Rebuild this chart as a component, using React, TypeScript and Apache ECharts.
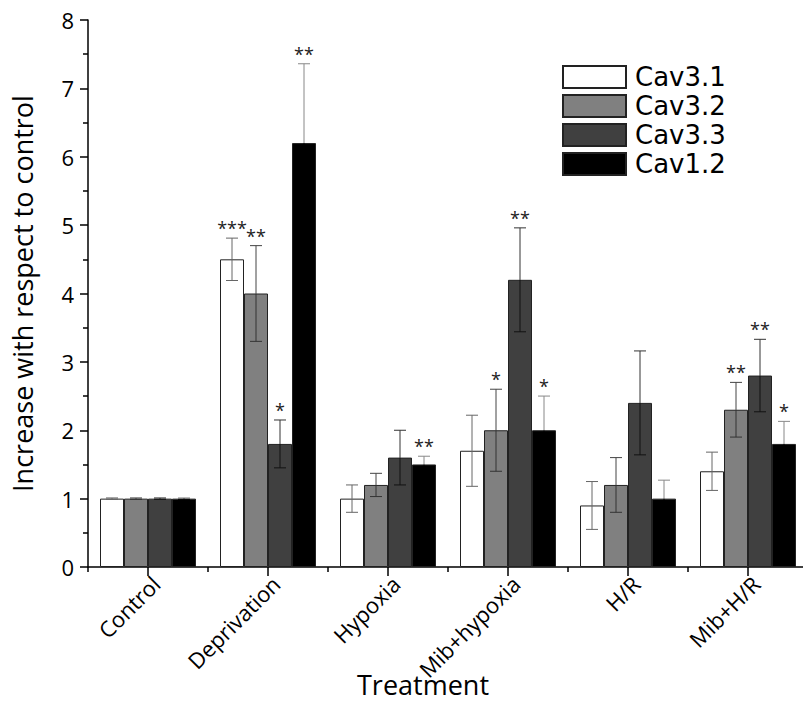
import React, { useEffect, useRef } from "react";
import * as echarts from "echarts";

const categories = ["Control", "Deprivation", "Hypoxia", "Mib+hypoxia", "H/R", "Mib+H/R"];
const seriesNames = ["Cav3.1", "Cav3.2", "Cav3.3", "Cav1.2"];
const cav31 = [1.0, 4.5, 1.0, 1.7, 0.9, 1.4];
const cav32 = [1.0, 4.0, 1.2, 2.0, 1.2, 2.3];
const cav33 = [1.0, 1.8, 1.6, 4.2, 2.4, 2.8];
const cav12 = [1.0, 6.2, 1.5, 2.0, 1.0, 1.8];
const err31 = [0.01, 0.31, 0.2, 0.52, 0.35, 0.28];
const err32 = [0.01, 0.7, 0.17, 0.6, 0.4, 0.4];
const err33 = [0.01, 0.35, 0.4, 0.76, 0.76, 0.53];
const err12 = [0.01, 1.16, 0.12, 0.5, 0.27, 0.33];
const stars31 = ["", "***", "", "", "", ""];
const stars32 = ["", "**", "", "*", "", "**"];
const stars33 = ["", "*", "", "**", "", "**"];
const stars12 = ["", "**", "**", "*", "", "*"];
const yTicks = [0, 1, 2, 3, 4, 5, 6, 7, 8];

const values = [cav31, cav32, cav33, cav12];
const errors = [err31, err32, err33, err12];
const stars = [stars31, stars32, stars33, stars12];
const fills = ["#ffffff", "#808080", "#404040", "#000000"];
const errUpper = ["#666666", "#444444", "#333333", "#888888"];
const errLower = ["#666666", "#333333", "#111111", "#000000"];

const FONT = "Open Sans";

export default function App() {
  const ref = useRef<HTMLDivElement>(null);
  useEffect(() => {
    if (!ref.current) return;
    const chart = echarts.init(ref.current, null, { renderer: "svg" });
    const barSeries = seriesNames.map((name, si) => ({
      name,
      type: "bar",
      data: values[si],
      barGap: "0%",
      barCategoryGap: "20%",
      itemStyle: { color: fills[si], borderColor: "#222", borderWidth: 1 },
      z: 2,
    }));
    const errSeries = seriesNames.map((name, si) => ({
      type: "custom",
      name: name + "-err",
      z: 5,
      data: values[si].map((v, i) => [i, v, errors[si][i]]),
      renderItem: (params: any, api: any) => {
        const ci = api.value(0);
        const v = api.value(1);
        const e = api.value(2);
        const band = api.size([1, 0])[0];
        const off = (si - 1.5) * band * 0.2;
        const c = api.coord([ci, v]);
        const t = api.coord([ci, v + e]);
        const b = api.coord([ci, v - e]);
        const x = c[0] + off;
        const half = 6;
        const children: any[] = [
          { type: "line", shape: { x1: x, y1: c[1], x2: x, y2: t[1] }, style: { stroke: errUpper[si], lineWidth: 1 } },
          { type: "line", shape: { x1: x - half, y1: t[1], x2: x + half, y2: t[1] }, style: { stroke: errUpper[si], lineWidth: 1 } },
          { type: "line", shape: { x1: x, y1: c[1], x2: x, y2: b[1] }, style: { stroke: errLower[si], lineWidth: 1 } },
          { type: "line", shape: { x1: x - half, y1: b[1], x2: x + half, y2: b[1] }, style: { stroke: errLower[si], lineWidth: 1 } },
        ];
        const s = stars[si][params.dataIndex];
        if (s) {
          children.push({
            type: "text",
            style: {
              text: s,
              x: x,
              y: t[1] - 1,
              align: "center",
              verticalAlign: "bottom",
              fontSize: 18,
              fontFamily: FONT,
              fill: "#222",
            },
          });
        }
        return { type: "group", children };
      },
    }));
    chart.setOption({
      animation: false,
      backgroundColor: "#ffffff",
      textStyle: { fontFamily: FONT },
      grid: { left: 88, right: -5, top: 20, bottom: 135, containLabel: false, outerBoundsMode: "none" },
      legend: {
        data: seriesNames,
        orient: "vertical",
        left: 557,
        top: 59,
        itemWidth: 63,
        itemHeight: 22,
        itemGap: 3,
        icon: "rect",
        textStyle: { fontSize: 26, fontFamily: "DejaVu Sans", color: "#000", padding: [0, 0, 0, 4] },
        selectedMode: false,
      },
      xAxis: [
        {
          type: "category",
          data: categories,
          boundaryGap: true,
          name: "Treatment",
          nameLocation: "middle",
          nameGap: 104,
          nameMoveOverlap: false,
          nameTextStyle: { fontSize: 27, fontFamily: FONT, color: "#000", padding: [0, 50, 0, 0] },
          axisLine: { show: true, lineStyle: { color: "#000", width: 1.5 } },
          axisTick: { show: true, alignWithLabel: true, length: 9, lineStyle: { color: "#000", width: 1.5 } },
          axisLabel: {
            rotate: 45,
            fontSize: 22,
            fontFamily: FONT,
            color: "#000",
            margin: 5,
            interval: 0,
            verticalAlign: "top",
          },
        },
        {
          type: "category",
          data: categories,
          boundaryGap: true,
          position: "bottom",
          axisLine: { show: false },
          axisTick: { show: true, length: 5, lineStyle: { color: "#000", width: 1.5 } },
          axisLabel: { show: false },
        },
      ],
      yAxis: {
        type: "value",
        min: 0,
        max: 8,
        interval: 1,
        name: "Increase with respect to control",
        nameLocation: "middle",
        nameGap: 52,
        nameTextStyle: { fontSize: 27, fontFamily: FONT, color: "#000" },
        axisLine: { show: true, lineStyle: { color: "#000", width: 1.5 } },
        axisTick: { show: true, length: 8, lineStyle: { color: "#000", width: 1.5 } },
        minorTick: { show: true, splitNumber: 2, length: 5, lineStyle: { color: "#000", width: 1.5 } },
        splitLine: { show: false },
        axisLabel: {
          fontSize: 22,
          fontFamily: FONT,
          color: "#000",
          margin: 14,
          formatter: (v: number) => (yTicks.includes(v) ? String(v) : ""),
        },
      },
      series: [...barSeries, ...errSeries],
    });
    return () => chart.dispose();
  }, []);
  return <div ref={ref} style={{ position: "fixed", left: 0, top: 0, width: 803, height: 702 }} />;
}
